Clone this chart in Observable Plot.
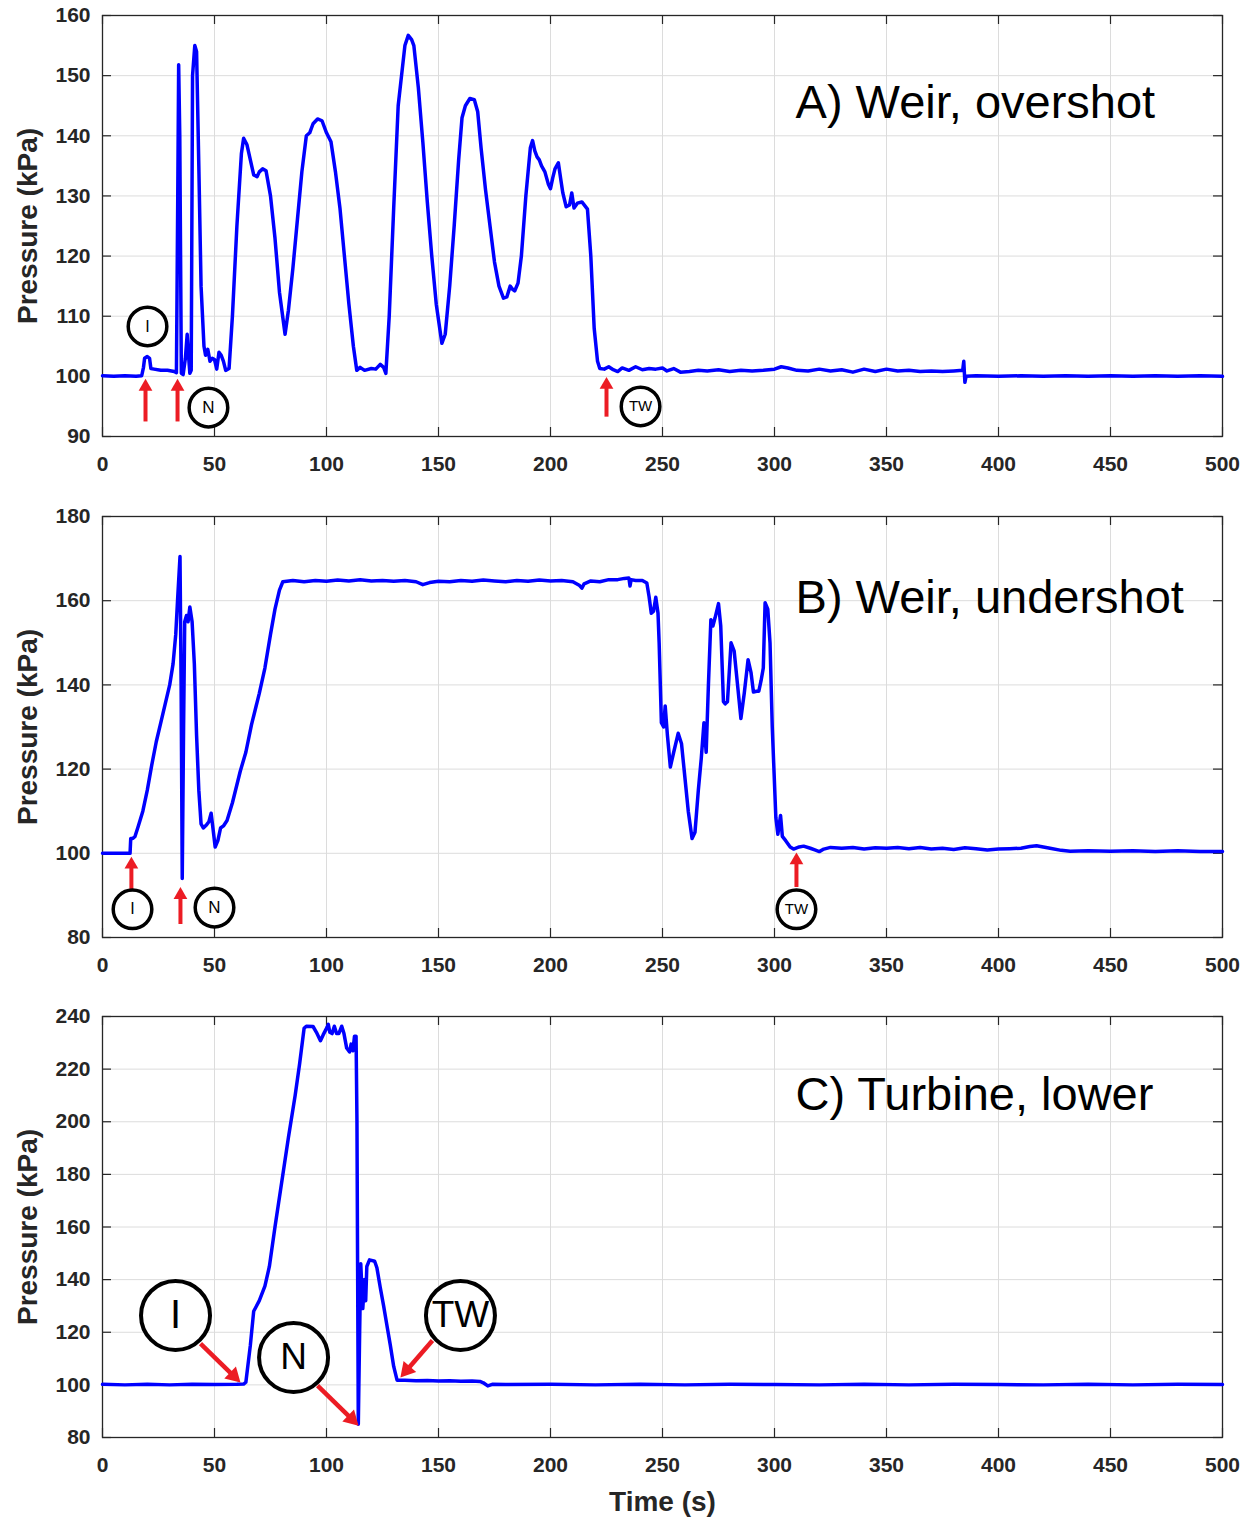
<!DOCTYPE html>
<html><head><meta charset="utf-8">
<script src="https://cdn.jsdelivr.net/npm/d3@7"></script>
<script src="https://cdn.jsdelivr.net/npm/@observablehq/plot@0.6"></script>
<style>body{margin:0;background:#fff} #chart svg{display:block}</style>
</head><body><div id="chart"></div>
<script>
// ---------- ticks ----------
const xTicks = [0, 50, 100, 150, 200, 250, 300, 350, 400, 450, 500];
const yTicksA = [90, 100, 110, 120, 130, 140, 150, 160];
const yTicksB = [80, 100, 120, 140, 160, 180];
const yTicksC = [80, 100, 120, 140, 160, 180, 200, 220, 240];
const xLabel = "Time (s)";
const yLabel = "Pressure (kPa)";
const titles = ["A) Weir, overshot", "B) Weir, undershot", "C) Turbine, lower"];

// ---------- series [time s, pressure kPa] ----------
const seriesA = [
[0,100.1],[5,100],[10,100.1],[15,100],[17.5,100.1],[18.3,101.5],[18.8,103],[20,103.3],[21,103],[21.6,101.3],
[23,101.2],[26,101],[29,101],[32,100.8],[33,100.6],[33.6,130],[34,151.8],[34.5,140],[35.2,100.5],[36,100.3],
[37,103],[37.8,107],[38.5,103],[39,100.5],[39.6,101],[40.2,150],[41.2,155],[42,154],[43,135],[44,115],
[45.3,105],[46,103.5],[47,104.5],[48,102.5],[49,103],[50,102.8],[51,101.2],[52,104],[53,103.5],[54,102.5],
[55,101],[56.5,101.3],[58,110],[60,125],[62,137],[63,139.6],[64.5,138.5],[66,136],[67.5,133.5],[69,133.2],
[70,134],[71.5,134.5],[73,134.2],[75,130],[77,123],[79,114],[81.5,107],[83,111],[85,118],[87,126],
[89,134],[91,140],[92.5,140.5],[94,142],[96,142.8],[98,142.5],[100,140.5],[102,139],[104,134],[106,128],
[108,120],[110,112],[112,105],[113.5,101],[115,101.5],[117,101],[120,101.3],[122,101.2],[124,102],[125.5,101.5],
[126.5,100.5],[128,110],[130,128],[132,145],[133.5,150],[135,155],[136.5,156.7],[138,156],[139,155],[141,148],
[143,139],[145,129],[147,120],[149,112],[151.5,105.5],[153,107],[155,115],[157,125],[159,136],[160.5,143],
[162,145],[164,146.2],[166,146],[167.5,144],[169,138],[171,131],[173,125],[175,119],[177,115],[179,113],
[180.5,113.2],[182,115],[183,114.5],[184,114.2],[185.5,115.5],[187,120],[189,130],[191,138],[192,139.2],[193,137.5],
[194,136.5],[195,136],[196,135],[197.5,134],[199,132],[200,131.2],[201,133],[202,134.5],[203.5,135.5],[204.5,133],
[205.5,130.5],[207,128.2],[208.5,128.5],[209.5,130.5],[210.5,128],[212,128.8],[214,129],[216.5,127.8],[218,120],[219.5,108],
[221,102.5],[222,101.3],[224,101.2],[226,101.6],[228,101.1],[230,100.8],[232,101.4],[235,101],[238,101.6],[241,101.1],
[244,101.3],[247,101.2],[250,101.4],[252,100.9],[255,101.3],[258,100.7],[262,100.8],[266,101],[270,100.9],[275,101.1],
[280,100.8],[285,101],[290,100.9],[295,101],[300,101.2],[303,101.6],[306,101.4],[310,101],[315,100.9],[320,101.2],
[325,100.9],[330,101.1],[335,100.7],[340,101.2],[345,100.8],[350,101.2],[355,100.9],[360,101],[365,100.8],[370,100.9],
[375,100.8],[380,100.9],[384,101],[384.5,102.5],[385,99],[385.5,100],[390,100.1],[400,100],[410,100.1],[420,100],
[430,100.1],[440,100],[450,100.1],[460,100],[470,100.1],[480,100],[490,100.1],[500,100]
];
const seriesB = [
[0,100],[5,100],[10,100],[12.3,100],[12.6,103.5],[13.5,103.5],[14.5,104],[16,106.5],[18,110],[20,115],
[22,121],[24,126.5],[26,131],[28,135.5],[30,140],[31.5,145],[32.7,152],[33.5,160],[34.6,170.5],[35.1,140],
[35.6,94],[36.2,130],[36.7,155],[37.5,156.5],[38.2,155],[39,158.5],[40,155],[41,145],[42,128],[43,115],
[44,107],[45,106],[46.5,106.8],[47.5,107.5],[48.5,109.5],[49.3,106],[50.3,101.5],[51.5,103],[52.7,106],[54,106.5],
[55.6,107.8],[58,112],[61.5,119.5],[64,124],[66.5,130.5],[70,138],[72.5,144],[75,152],[77,158],[79,162.5],
[80.5,164.5],[85,164.8],[90,164.5],[95,164.8],[100,164.6],[105,164.9],[110,164.7],[115,165],[120,164.7],[125,164.8],
[130,164.6],[135,164.8],[140,164.5],[143,163.8],[146,164.3],[150,164.6],[155,164.5],[160,164.8],[165,164.6],[170,164.9],
[175,164.7],[180,164.5],[185,164.8],[190,164.6],[195,164.9],[200,164.7],[205,164.8],[210,164.5],[213,163.6],[214,163],
[215,164],[218,164.7],[222,164.5],[226,165],[230,165],[233,165.3],[235,165.4],[235.5,163.5],[236,165],[238,164.8],
[241,164.8],[243,164.2],[244,161],[245,157],[246,157.5],[247,160.8],[248,157],[248.5,150],[249.5,131],[250.5,130],
[251.2,135],[252.2,128],[253.5,120.5],[255,124],[257,128.5],[258.5,126],[260,118],[261.5,110],[263.2,103.5],[264.5,105],
[266,115],[267.3,122.5],[268.5,131],[269.5,124],[270.5,140],[271.6,155.5],[272.5,154],[273.5,156],[275,159.3],[276,154],
[277.2,136],[278,135.5],[279,136],[280.6,150],[282,148],[283.5,140],[285,132],[286.5,138],[288.2,146],[289.5,143],
[290.6,138.3],[292,138.5],[293,138.5],[294,141],[295,144],[295.8,159.5],[297,158],[298,150],[299,130],[300.6,108.5],
[301.5,104.5],[302.7,109],[303.5,104],[305,103],[307,101.5],[308.5,101],[311,101.5],[313,101.7],[316,101.2],[318,100.8],
[320,100.4],[322,101],[325,101.4],[330,101.2],[335,101.4],[340,101],[345,101.3],[350,101.2],[355,101.4],[360,101.1],
[365,101.4],[370,101],[375,101.2],[380,100.9],[385,101.3],[390,101.1],[395,100.8],[400,101],[405,101.1],[410,101.2],
[414,101.6],[417,101.8],[420,101.5],[423,101.2],[428,100.7],[432,100.5],[440,100.6],[450,100.5],[460,100.6],[470,100.4],
[480,100.6],[490,100.4],[500,100.4]
];
const seriesC = [
[0,100.2],[10,100],[20,100.2],[30,100],[40,100.2],[50,100.1],[60,100.2],[63,100.3],[64,101],[66,115],
[67.5,128],[70,132],[72.5,137.5],[74.5,145],[77,160],[80,177],[83,194],[86,210],[88,222],[90,235.5],
[91,236.3],[94,236.2],[95.5,234],[97.3,230.8],[98.5,233],[100,235.5],[100.8,237],[101.5,234],[102.5,233.5],[103.5,236.3],
[104.5,233.5],[105.5,233.5],[106.8,236.3],[107.8,233.5],[109,228],[110.3,226.5],[111,229.5],[111.8,227],[112.5,232.5],[113.2,232.5],
[113.6,200],[114.2,85],[114.8,120],[115.3,146],[116.2,129],[117,140],[117.5,132],[118,145],[119.2,147.5],[121.5,147],
[122.5,144.5],[124,137],[125.5,130],[127,122.5],[128.5,115],[130,107],[131.5,101.8],[135,101.8],[140,101.6],[145,101.7],
[150,101.5],[155,101.6],[160,101.4],[165,101.5],[168.5,101.3],[170,100.8],[172,99.6],[174,100.2],[180,100.1],[200,100.2],
[220,100],[240,100.2],[260,100],[280,100.2],[300,100.1],[320,100],[340,100.2],[360,100],[380,100.2],[400,100.1],
[420,100],[440,100.2],[460,100],[480,100.2],[500,100.1]
];

// ---------- annotations (time, pressure) ----------
const circlesA = [{t:20.1,p:108.3,label:"I"},{t:47.3,p:94.8,label:"N"},{t:240.2,p:95,label:"TW"}];
const arrowsA = [{t1:19.2,p1:92.5,t2:19.2,p2:99.6},{t1:33.5,p1:92.5,t2:33.5,p2:99.6},{t1:225,p1:93.3,t2:225,p2:99.9}];
const circlesB = [{t:13.4,p:86.7,label:"I"},{t:50,p:87.1,label:"N"},{t:309.8,p:86.7,label:"TW"}];
const arrowsB = [{t1:12.9,p1:91.5,t2:12.9,p2:99.2},{t1:34.8,p1:83.2,t2:34.8,p2:92},{t1:309.8,p1:92,t2:309.8,p2:100.2}];
const circlesC = [{t:32.6,p:126.4,label:"I"},{t:85.3,p:110.4,label:"N"},{t:159.8,p:126.4,label:"TW"}];
const arrowsC = [{t1:43.75,p1:115.7,t2:61.6,p2:100.9},{t1:96,p1:99.7,t2:114.3,p2:84.5},{t1:147.3,p1:116.9,t2:133,p2:102.8}];

const FONT = "'Liberation Sans', Arial, Helvetica, sans-serif";
const AX = "#262626";
const RED = "#ec1c24";

function panel(o) {
  const W = 1250, mL = 102, mR = 28;
  const plotW = W - mL - mR, plotH = o.height - o.marginTop - o.marginBottom;
  const kx = plotW / 500, ky = plotH / (o.yDomain[1] - o.yDomain[0]);
  const tick = 9;
  const a = Math.sqrt(Math.PI * o.headR * o.headR / (3 * Math.sqrt(3))); // triangle half-size
  const heads = o.arrows.map(d => {
    const dx = (d.t2 - d.t1) * kx, dy = -(d.p2 - d.p1) * ky;
    const len = Math.hypot(dx, dy), ux = dx / len, uy = dy / len;
    return {
      t1: d.t1, p1: d.p1,
      t: d.t2 - 2 * a * ux / kx, p: d.p2 + 2 * a * uy / ky,
      rot: Math.atan2(dx, -dy) * 180 / Math.PI
    };
  });
  const marks = [
    Plot.gridX(xTicks, {stroke: "#dcdcdc", strokeOpacity: 1, strokeWidth: 1}),
    Plot.gridY(o.yTicks, {stroke: "#dcdcdc", strokeOpacity: 1, strokeWidth: 1}),
    Plot.ruleX(xTicks, {insetTop: plotH - tick, stroke: AX, strokeWidth: 1.2}),
    Plot.ruleX(xTicks, {insetBottom: plotH - tick, stroke: AX, strokeWidth: 1.2}),
    Plot.ruleY(o.yTicks, {insetRight: plotW - tick, stroke: AX, strokeWidth: 1.2}),
    Plot.ruleY(o.yTicks, {insetLeft: plotW - tick, stroke: AX, strokeWidth: 1.2}),
    Plot.axisX(xTicks, {tickSize: 0, tickPadding: 20, fontSize: 21, fontWeight: "bold", fill: AX, label: null}),
    Plot.axisY(o.yTicks, {tickSize: 0, tickPadding: 12, fontSize: 21, fontWeight: "bold", fill: AX, label: null}),
    Plot.frame({stroke: AX, strokeWidth: 1.3}),
    Plot.line(o.series, {x: d => d[0], y: d => d[1], stroke: "#0000ff", strokeWidth: 3.5, strokeLinejoin: "round", strokeLinecap: "round"}),
    Plot.link(heads, {x1: "t1", y1: "p1", x2: "t", y2: "p", stroke: RED, strokeWidth: o.shaftW, strokeLinecap: "butt"}),
    Plot.dot(heads, {x: "t", y: "p", symbol: "triangle", r: o.headR, rotate: "rot", fill: RED, stroke: null}),
    Plot.dot(o.circles, {x: "t", y: "p", r: o.circleR, fill: "white", stroke: "black", strokeWidth: o.circleW}),
    Plot.text(o.circles, {x: "t", y: "p", text: "label", fontSize: d => o.labelSize[d.label], fill: "black", lineAnchor: "middle"}),
    Plot.text([o.title], {x: () => 309.4, y: () => o.titleP, text: d => d, textAnchor: "start", lineAnchor: "bottom", fontSize: 47, fill: "black"}),
    Plot.text([yLabel], {frameAnchor: "left", rotate: -90, dx: -74, text: d => d, fontSize: 28, fontWeight: "bold", fill: AX, textAnchor: "middle", lineAnchor: "middle"})
  ];
  if (o.showX) marks.push(Plot.text([xLabel], {frameAnchor: "bottom", dy: 65, text: d => d, fontSize: 28, fontWeight: "bold", fill: AX, textAnchor: "middle", lineAnchor: "middle"}));
  return Plot.plot({
    width: W, height: o.height,
    marginLeft: mL, marginRight: mR, marginTop: o.marginTop, marginBottom: o.marginBottom,
    x: {domain: [0, 500]},
    y: {domain: o.yDomain},
    style: {fontFamily: FONT, background: "white", overflow: "visible"},
    marks
  });
}

const el = document.getElementById("chart");
el.appendChild(panel({series: seriesA, yDomain: [90, 160], yTicks: yTicksA, circles: circlesA, arrows: arrowsA,
  title: titles[0], titleP: 143.0, height: 476, marginTop: 15, marginBottom: 40,
  headR: 5.1, shaftW: 4, circleR: 19.3, circleW: 3.5, labelSize: {I: 16, N: 17, TW: 15}}));
el.appendChild(panel({series: seriesB, yDomain: [80, 180], yTicks: yTicksB, circles: circlesB, arrows: arrowsB,
  title: titles[1], titleP: 157.0, height: 501, marginTop: 40, marginBottom: 40,
  headR: 5.1, shaftW: 4, circleR: 19.3, circleW: 3.5, labelSize: {I: 16, N: 17, TW: 15}}));
el.appendChild(panel({series: seriesC, yDomain: [80, 240], yTicks: yTicksC, circles: circlesC, arrows: arrowsC,
  title: titles[2], titleP: 204.3, height: 542, marginTop: 39, marginBottom: 82,
  headR: 6.2, shaftW: 4.5, circleR: 34.5, circleW: 4, labelSize: {I: 40, N: 37, TW: 37}, showX: true}));
</script></body></html>
